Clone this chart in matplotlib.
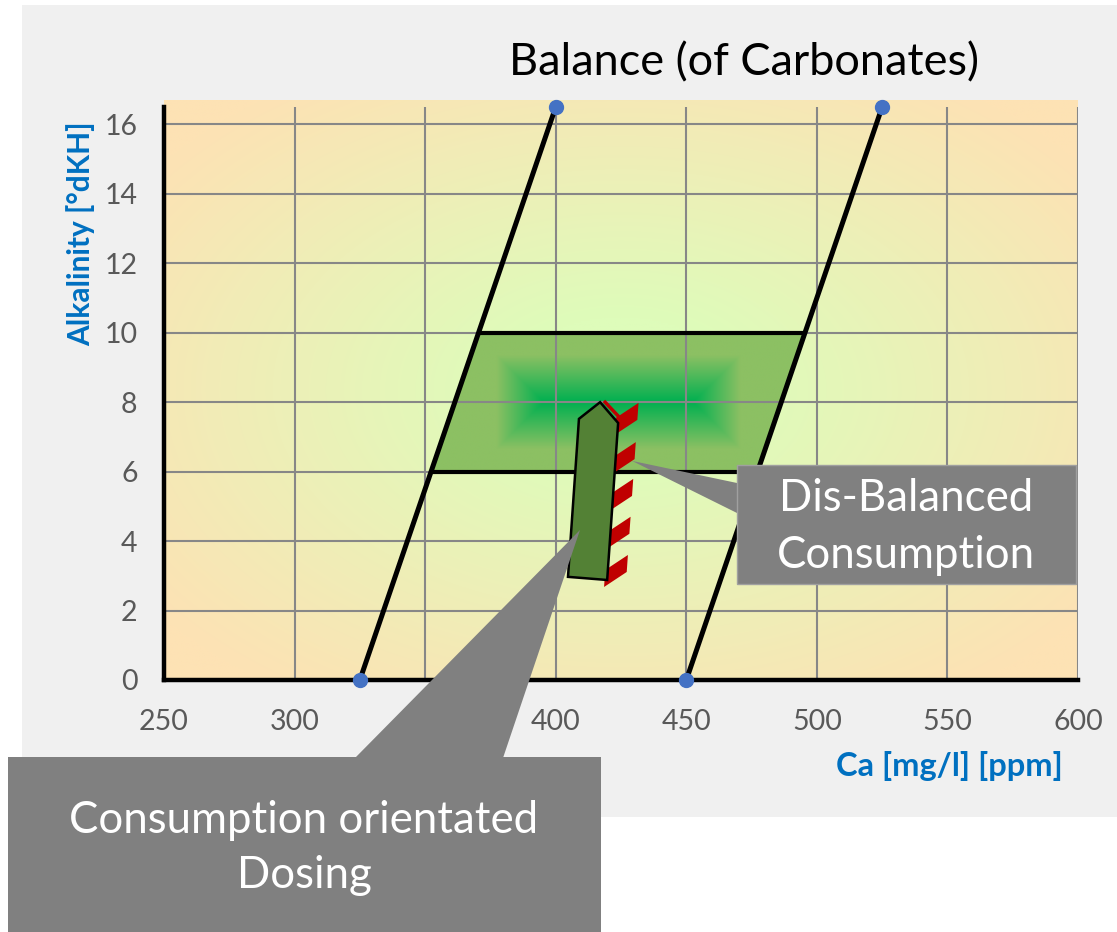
import numpy as np
import matplotlib
matplotlib.use('Agg')
from matplotlib import pyplot as plt
from matplotlib.patches import Polygon, Rectangle

plt.rcParams['font.family'] = ['Lato', 'DejaVu Sans']

# achsen
ca_ticks = [250, 300, 350, 400, 450, 500, 550, 600]
dkh_ticks = [0, 2, 4, 6, 8, 10, 12, 14, 16]
dkh_max = 16.5

# balance lines (Ca at dKH=0 and at dKH=dkh_max)
line_ca_bottom = [325, 450]
line_ca_top = [400, 525]
# target band between the two lines
band_dkh = [6, 10]

# dosing arrow outline
arrow_ca = [404.7, 419.7, 423.9, 417.0, 408.9]
arrow_dkh = [2.97, 2.88, 7.40, 8.00, 7.52]
# red stripes along the arrow (top of each stripe)
stripe_dkh = [7.98, 6.85, 5.79, 4.70, 3.60]

# callout tips (data coords)
tip_disbalanced = (429.2, 6.31)
tip_dosing = (409.3, 4.32)

W, H = 1117, 932
fig = plt.figure(figsize=(W / 100, H / 100), dpi=100, facecolor='white')

# grey panel behind the chart
panel = Rectangle((22 / W, (H - 817) / H), (W - 22) / W, 812 / H,
                  transform=fig.transFigure, facecolor='#f0f0f0', edgecolor='none', zorder=-5)
fig.add_artist(panel)

ax = fig.add_axes([164 / W, (H - 680) / H, 914 / W, 573 / H])
ax.set_facecolor('none')
ax.set_xlim(250, 600)
ax.set_ylim(0, dkh_max)

# background gradient (green centre -> peach corners)
green = np.array([222, 252, 186]) / 255
peach = np.array([253, 226, 180]) / 255
u, v = np.meshgrid(np.linspace(-1, 1, 400), np.linspace(-1, 1, 300))
r = np.sqrt(u ** 2 + v ** 2) / np.sqrt(2)
t = np.clip((r - 0.18) / 0.72, 0, 1)[..., None]
bg = green * (1 - t) + peach * t
ax.imshow(bg, extent=[250, 600, 0, 16.7], origin='lower', aspect='auto',
          zorder=0, clip_on=False, interpolation='bilinear')

ax.set_xticks(ca_ticks)
ax.set_yticks(dkh_ticks)
ax.grid(True, color='#878787', lw=1.5, zorder=1)
ax.set_axisbelow(False)
for g in ax.get_xgridlines() + ax.get_ygridlines():
    g.set_zorder(1)
ax.tick_params(length=0, labelsize=20.5, labelcolor='#595959')
ax.tick_params(axis='y', pad=19)
ax.tick_params(axis='x', pad=21)
for s in ['top', 'right']:
    ax.spines[s].set_visible(False)
for s in ['left', 'bottom']:
    ax.spines[s].set_linewidth(3.2)
    ax.spines[s].set_color('black')
    ax.spines[s].set_zorder(6)


def line_ca(i, d):
    return line_ca_bottom[i] + (line_ca_top[i] - line_ca_bottom[i]) * d / dkh_max


# band (parallelogram) with rectangular path gradient
lo, hi = band_dkh
band = [(line_ca(0, lo), lo), (line_ca(1, lo), lo), (line_ca(1, hi), hi), (line_ca(0, hi), hi)]
sx = 914 / 350
sy = 573 / dkh_max
cx = (line_ca(0, 8) + line_ca(1, 8)) / 2
cy = 8
xs = np.linspace(band[0][0] - 2, band[2][0] + 2, 500)
ys = np.linspace(lo - 0.1, hi + 0.1, 250)
X, Y = np.meshgrid(xs, ys)
d = np.minimum(122 - np.abs(X - cx) * sx, 47 - np.abs(Y - cy) * sy)
t = np.clip(d / 47, 0, 1)[..., None]
light = np.array([140, 192, 99]) / 255
dark = np.array([0, 176, 80]) / 255
fill = light * (1 - t) + dark * t
im = ax.imshow(fill, extent=[xs[0], xs[-1], ys[0], ys[-1]], origin='lower',
               aspect='auto', zorder=2, interpolation='bilinear')
clip = Polygon(band, closed=True, transform=ax.transData, facecolor='none', edgecolor='none')
ax.add_patch(clip)
im.set_clip_path(clip)
for yy in band_dkh:
    ax.plot([line_ca(0, yy), line_ca(1, yy)], [yy, yy], color='black', lw=3, zorder=3,
            solid_capstyle='butt')

# balance lines with end points
for i in range(2):
    ax.plot([line_ca_bottom[i], line_ca_top[i]], [0, dkh_max], color='black', lw=3.6, zorder=3)
    ax.plot([line_ca_bottom[i], line_ca_top[i]], [0, dkh_max], 'o', color='#4472c4',
            ms=10, zorder=7, clip_on=False)

# red stripes along the right side of the arrow
ex0, ey0 = arrow_ca[2], arrow_dkh[2]
ex1, ey1 = arrow_ca[1], arrow_dkh[1]


def edge_x(yv):
    return ex0 + (ex1 - ex0) * (yv - ey0) / (ey1 - ey0)


sw = 19 / sx
rise = 15 / sy
thick = 17 / sy
for top in stripe_dkh:
    yl_top = top - rise
    yl_bot = top - rise - thick
    pts = [(edge_x(yl_top) - 1, yl_top), (edge_x(top) + sw, top),
           (edge_x(top - thick) + sw, top - thick), (edge_x(yl_bot) - 1, yl_bot)]
    ax.add_patch(Polygon(pts, closed=True, facecolor='#c00000', edgecolor='none', zorder=4))
# thin red edge along the arrow head
ax.plot([arrow_ca[3] + 2.5 / sx * 2, arrow_ca[2] + 2.5 / sx * 2],
        [arrow_dkh[3], arrow_dkh[2] + 0.05], color='#c00000', lw=2.5, zorder=4)

ax.add_patch(Polygon(list(zip(arrow_ca, arrow_dkh)), closed=True, facecolor='#538135',
                     edgecolor='black', lw=1.8, zorder=5))

# overlay in pixel coordinates for text and callouts
ov = fig.add_axes([0, 0, 1, 1], zorder=10)
ov.set_xlim(0, W)
ov.set_ylim(H, 0)
ov.axis('off')
ov.patch.set_alpha(0)


def to_px(p):
    xd, yd = ax.transData.transform(p)
    return xd, H - yd


ov.text(744, 63, 'Balance (of Carbonates)', fontsize=32.5, ha='center', va='center', color='black')
ov.text(81, 234, 'Alkalinity [°dKH]', fontsize=21.5, fontweight='bold', color='#0070c0',
        rotation=90, ha='center', va='center')
ov.text(949, 766, 'Ca [mg/l] [ppm]', fontsize=23.5, fontweight='bold', color='#0070c0',
        ha='center', va='center')

grey = '#808080'
ov.add_patch(Polygon([(737, 483), (737, 513), to_px(tip_disbalanced)], closed=True,
                     facecolor=grey, edgecolor='none'))
ov.add_patch(Rectangle((737, 465), 339, 119, facecolor=grey, edgecolor='#a0a0a0', lw=1))
ov.text(906, 527, 'Dis-Balanced\nConsumption', fontsize=31.5, color='white',
        ha='center', va='center', linespacing=1.48)

ov.add_patch(Polygon([(355, 758), (503, 758), to_px(tip_dosing)], closed=True,
                     facecolor=grey, edgecolor='none'))
ov.add_patch(Rectangle((8, 757), 593, 180, facecolor=grey, edgecolor='none'))
ov.text(304, 848, 'Consumption orientated\nDosing', fontsize=31.5, color='white',
        ha='center', va='center', linespacing=1.45)

fig.savefig('out.png', dpi=100)
